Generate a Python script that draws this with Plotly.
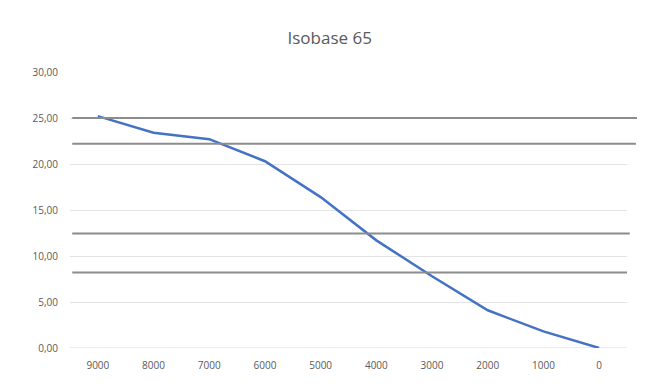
import plotly.graph_objects as go

categories = ["9000", "8000", "7000", "6000", "5000", "4000", "3000", "2000", "1000", "0"]
values = [25.2, 23.4, 22.7, 20.3, 16.4, 11.7, 7.8, 4.1, 1.8, 0.0]
ref_levels = [25.0, 22.2, 12.45, 8.2]
ref_right_ends = [1.018, 1.016, 1.005, 1.0]
y_ticks = [0, 5, 10, 15, 20, 25, 30]
y_labels = ["0,00", "5,00", "10,00", "15,00", "20,00", "25,00", "30,00"]

FONT = "Open Sans, Liberation Sans, sans-serif"

fig = go.Figure()
fig.add_trace(go.Scatter(x=categories, y=values, mode="lines",
                         line=dict(color="#4472C4", width=2.5), showlegend=False))

for lvl, x1 in zip(ref_levels, ref_right_ends):
    fig.add_shape(type="line", xref="paper", yref="y", x0=0.004, x1=x1, y0=lvl, y1=lvl,
                  line=dict(color="#8C8C8C", width=2), layer="above")

fig.update_layout(
    width=637, height=377,
    margin=dict(l=62, r=18, t=64, b=37),
    paper_bgcolor="white", plot_bgcolor="white",
    title=dict(text="Isobase 65", x=0.505, xanchor="center", y=0.92, yanchor="middle",
               font=dict(family=FONT, size=17, color="#595959")),
    xaxis=dict(type="category", categoryorder="array", categoryarray=categories,
               range=[-0.5, 9.5], showgrid=False, zeroline=False, showline=False,
               ticks="", ticklabelstandoff=10,
               tickfont=dict(family=FONT, size=10, color="#595959")),
    yaxis=dict(range=[0, 30], tickvals=y_ticks, ticktext=y_labels, showgrid=True,
               gridcolor="#E3E3E3", gridwidth=1, zeroline=False, showline=False, ticks="",
               ticklabelstandoff=11,
               tickfont=dict(family=FONT, size=10, color="#595959")),
)
fig.add_shape(type="line", xref="paper", yref="y", x0=0, x1=1, y0=0, y1=0,
              line=dict(color="#D9D9D9", width=1), layer="below")

fig.write_html("out.html")
